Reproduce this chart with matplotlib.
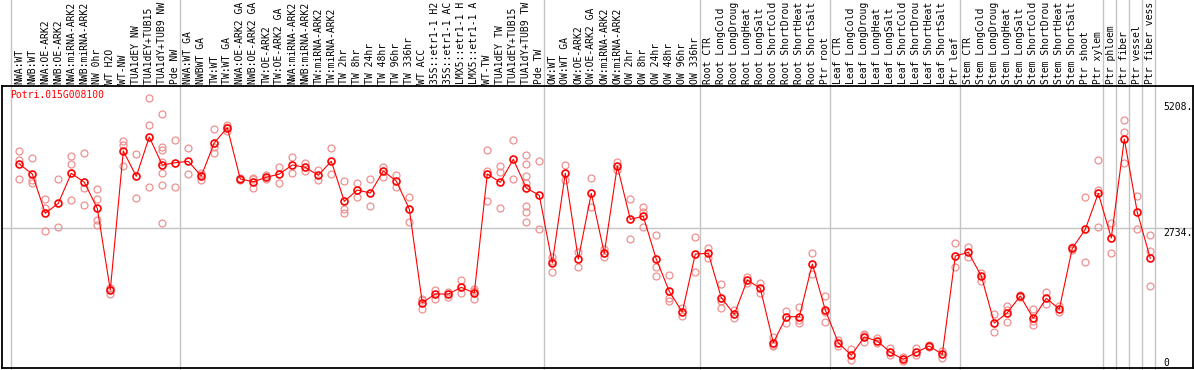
import numpy as np
import matplotlib.pyplot as plt
from matplotlib.transforms import blended_transform_factory

# sample names as shown (cut to 14 chars in the original)
labels = [
    "NWA:WT", "NWB:WT", "NWA:OE-ARK2", "NWB:OE-ARK2", "NWA:miRNA-ARK2",
    "NWB:miRNA-ARK2", "NW 0hr", "WT H2O", "WT-NW", "TUA1dEY NW",
    "TUA1dEY+TUB15 ", "TUA1dY+TUB9 NW", "Pde NW",
    "NWA:WT GA", "NWBWT GA", "TW:WT", "TW:WT GA", "NWA:OE-ARK2 GA",
    "NWB:OE-ARK2 GA", "TW:OE-ARK2", "TW:OE-ARK2 GA", "NWA:miRNA-ARK2",
    "NWB:miRNA-ARK2", "TW:miRNA-ARK2", "TW:miRNA-ARK2", "TW 2hr", "TW 8hr",
    "TW 24hr", "TW 48hr", "TW 96hr", "TW 336hr", "WT ACC", "35S::etr1-1 H2",
    "35S::etr1-1 AC", "LMX5::etr1-1 H", "LMX5::etr1-1 A", "WT-TW",
    "TUA1dEY TW", "TUA1dEY+TUB15 ", "TUA1dY+TUB9 TW", "Pde TW",
    "OW:WT", "OW:WT GA", "OW:OE-ARK2", "OW:OE-ARK2 GA", "OW:miRNA-ARK2",
    "OW:miRNA-ARK2", "OW 2hr", "OW 8hr", "OW 24hr", "OW 48hr", "OW 96hr",
    "OW 336hr",
    "Root CTR", "Root LongCold", "Root LongDroug", "Root LongHeat",
    "Root LongSalt", "Root ShortCold", "Root ShortDrou", "Root ShortHeat",
    "Root ShortSalt", "Ptr root",
    "Leaf CTR", "Leaf LongCold", "Leaf LongDroug", "Leaf LongHeat",
    "Leaf LongSalt", "Leaf ShortCold", "Leaf ShortDrou", "Leaf ShortHeat",
    "Leaf ShortSalt", "Ptr leaf",
    "Stem CTR", "Stem LongCold", "Stem LongDroug", "Stem LongHeat",
    "Stem LongSalt", "Stem ShortCold", "Stem ShortDrou", "Stem ShortHeat",
    "Stem ShortSalt", "Ptr shoot", "Ptr xylem",
    "Ptr phloem", "Ptr fiber", "Ptr vessel", "Ptr fiber vess",
]

means = [
    3985, 3788, 3014, 3211, 3802, 3625, 3112, 1502, 4242, 3743,
    4518, 3966, 4011, 4039, 3749, 4405, 4701, 3690, 3636, 3723,
    3788, 3966, 3920, 3763, 4039, 3250, 3473, 3414, 3847, 3650,
    3098, 1252, 1423, 1423, 1555, 1443, 3788, 3625, 4078, 3512,
    3368, 2034, 3802, 2113, 3408, 2225, 3946, 2895, 2955, 2107,
    1476, 1068, 2211, 2225, 1350, 1023, 1699, 1535, 463, 976,
    976, 2014, 1108, 463, 215, 576, 497, 274, 136, 274,
    398, 235, 2172, 2245, 1778, 851, 1054, 1384, 944, 1338,
    1127, 2324, 2698, 3408, 2527, 4478, 3033, 2127,
]

reps = [
    [4242, 4064, 3684], [4098, 3670, 3605], [3296, 3112, 2659], [3684, 2750],
    [4143, 3979, 3270], [4196, 3518, 3171], [3493, 3296, 2882, 2783],
    [1535, 1548, 1423], [4439, 4360, 3946], [4177, 3315],
    [5280, 4754, 3526], [4971, 4326, 4261, 4031, 3802, 3566, 2817],
    [4452, 3526], [4295, 3788], [3769, 3670, 3808], [4669, 4326, 4196],
    [4754, 4721, 4628], [3703, 3670], [3703, 3518, 3690], [3769, 3684],
    [3932, 3617], [4129, 3802], [4011, 3853], [3867, 3670], [4295, 3782],
    [3644, 3098, 3014], [3605, 3329], [3690, 3152], [3932, 3735],
    [3769, 3538], [3341, 2836], [1305, 1127, 1325], [1502, 1325],
    [1468, 1370], [1699, 1437], [1522, 1325, 1480], [4255, 3847, 3250],
    [3946, 3822, 3112], [4452, 3684],
    [4163, 3985, 3749, 3605, 3158, 3033, 2836], [4044, 2698],
    [2158, 1863, 2080], [3960, 3670], [2257, 1961], [3703, 3132],
    [2304, 2158], [4031, 3867], [3290, 2501], [3144, 3045, 2738],
    [2580, 1961, 1778], [1798, 1338, 1291], [1141, 995], [2547, 1851],
    [2324, 2139], [1620, 1141, 1290], [1108, 944], [1764, 1634],
    [1634, 1437], [570, 398, 420], [1094, 846], [1161, 846, 920],
    [2225, 1811], [1384, 865, 1075], [516, 398], [339, 122],
    [641, 471, 615], [550, 451], [353, 221], [187, 108], [353, 221],
    [418, 378], [300, 168], [2422, 1961], [2344, 2146], [1843, 1685],
    [1029, 668], [1187, 865, 1110], [1403, 1358], [1121, 812, 900],
    [1468, 1220], [1192, 1062], [2355, 2290], [3329, 2060],
    [4064, 3473, 2744], [2817, 2225], [4847, 4610, 3999], [3361, 2698],
    [2580, 2277, 1575],
]

group_starts = [0, 13, 41, 53, 63, 73, 84, 85, 86, 87, 88]
gene = "Potri.015G008100"
ytick_vals = [5208, 2734, 0]
ytick_text = ["5208.", "2734.", "0"]

plt.rcParams['font.family'] = ['DejaVu Sans Mono']

W, H = 1194, 370
fig = plt.figure(figsize=(W / 100, H / 100), dpi=100)
ax = fig.add_axes([2 / W, (H - 368) / H, (1193 - 2) / W, (368 - 86) / H])
ax.set_xlim((2 - 19.3) / 13, (1193 - 19.3) / 13)
ax.set_ylim(-35, 5523)
ax.set_xticks([])
ax.set_yticks([])
for s in ax.spines.values():
    s.set_color('black')
    s.set_linewidth(1.3)

grey = '#c4c4c4'
tr_fig = blended_transform_factory(ax.transData, fig.transFigure)
for b in group_starts:
    ax.plot([b - 0.64, b - 0.64], [0, 1], transform=tr_fig, color=grey,
            lw=1, clip_on=False, zorder=0)
ax.axhline(2734, color=grey, lw=1, zorder=0)

x = np.arange(len(labels))
for i, r in enumerate(reps):
    ax.plot([i] * len(r), r, 'o', ls='none', mfc='none', mec='#ee9090',
            ms=5, mew=0.9, zorder=2)
ax.plot(x, means, '-o', color='red', lw=0.8, mfc='none', mec='red',
        ms=5, mew=1.2, zorder=3)

for i, lab in enumerate(labels):
    ax.text(i, (H - 84) / H, lab, transform=tr_fig, rotation=90,
            ha='center', va='bottom', fontsize=7, clip_on=False)

fig.text(10 / W, (H - 90) / H, gene, color='red', fontsize=7,
         ha='left', va='top')

tr_y = blended_transform_factory(ax.transAxes, ax.transData)
for v, t in zip(ytick_vals, ytick_text):
    ax.text((1163 - 2) / 1191, v, t, transform=tr_y, fontsize=7,
            ha='left', va='baseline' if v == 0 else 'top')

fig.savefig('out.png', dpi=100)
